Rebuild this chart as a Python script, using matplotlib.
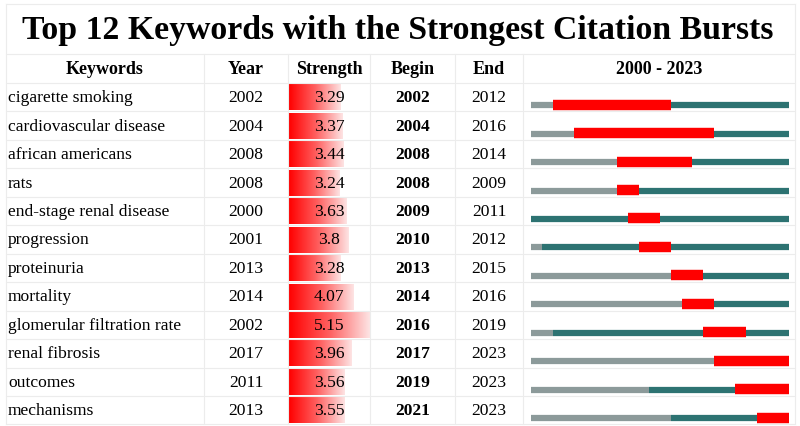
import numpy as np
import matplotlib.pyplot as plt
from matplotlib.colors import LinearSegmentedColormap

keywords = ["cigarette smoking", "cardiovascular disease", "african americans", "rats",
            "end-stage renal disease", "progression", "proteinuria", "mortality",
            "glomerular filtration rate", "renal fibrosis", "outcomes", "mechanisms"]
year = [2002, 2004, 2008, 2008, 2000, 2001, 2013, 2014, 2002, 2017, 2011, 2013]
strength = [3.29, 3.37, 3.44, 3.24, 3.63, 3.8, 3.28, 4.07, 5.15, 3.96, 3.56, 3.55]
begin = [2002, 2004, 2008, 2008, 2009, 2010, 2013, 2014, 2016, 2017, 2019, 2021]
end = [2012, 2016, 2014, 2009, 2011, 2012, 2015, 2016, 2019, 2023, 2023, 2023]
headers = ["Keywords", "Year", "Strength", "Begin", "End", "2000 - 2023"]
y0, y1 = 2000, 2023

plt.rcParams['font.family'] = ['Liberation Serif', 'DejaVu Serif']

fig = plt.figure(figsize=(8, 4.27), dpi=100, facecolor='white')
ax = fig.add_axes([0, 0, 1, 1])
ax.set_xlim(0, 800)
ax.set_ylim(427, 0)
ax.axis('off')

# layout in pixels
cols = [6, 204, 288, 370, 455, 523, 795]
top, title_bot, head_bot = 5, 55, 84
row_h = 28.45
n = len(keywords)
bottom = head_bot + n * row_h
grid = '#ececec'
fs = 12.6

# grid
ax.plot([cols[0], cols[-1]], [top, top], color=grid, lw=0.8)
ax.plot([cols[0], cols[-1]], [title_bot, title_bot], color=grid, lw=0.8)
for i in range(n + 1):
    yy = head_bot + i * row_h
    ax.plot([cols[0], cols[-1]], [yy, yy], color=grid, lw=0.8)
for c in cols[1:-1]:
    ax.plot([c, c], [title_bot, bottom], color=grid, lw=0.8)
ax.plot([cols[0], cols[0]], [top, bottom], color=grid, lw=0.8)
ax.plot([cols[-1], cols[-1]], [top, bottom], color=grid, lw=0.8)

ax.text(398, 31, "Top 12 Keywords with the Strongest Citation Bursts",
        ha='center', va='center', fontsize=24.3, fontweight='bold')

hy = (title_bot + head_bot) / 2
for j, h in enumerate(headers):
    ax.text((cols[j] + cols[j + 1]) / 2, hy, h, ha='center', va='center',
            fontsize=13, fontweight='bold')

cmap = LinearSegmentedColormap.from_list('burst', ['#ff0000', '#ff6060', '#fde4e4'])
grad = np.linspace(0, 1, 256).reshape(1, -1)
smax = max(strength)
tl_x0, tl_x1 = 531, 789
yw = (tl_x1 - tl_x0) / (y1 - y0 + 1)

for i in range(n):
    rt = head_bot + i * row_h
    cy = rt + row_h / 2
    ax.text(8, cy, keywords[i], ha='left', va='center', fontsize=fs)
    ax.text((cols[1] + cols[2]) / 2, cy, str(year[i]), ha='center', va='center', fontsize=fs)
    # strength bar with gradient
    bw = (cols[3] - cols[2] - 1) * strength[i] / smax
    ax.imshow(grad, cmap=cmap, aspect='auto', interpolation='bilinear',
              extent=[cols[2] + 1, cols[2] + 1 + bw, rt + row_h - 1, rt + 1.5], zorder=1)
    ax.text((cols[2] + cols[3]) / 2, cy, f"{strength[i]:g}", ha='center', va='center',
            fontsize=fs, zorder=3)
    ax.text((cols[3] + cols[4]) / 2, cy, str(begin[i]), ha='center', va='center',
            fontsize=fs, fontweight='bold')
    ax.text((cols[4] + cols[5]) / 2, cy, str(end[i]), ha='center', va='center', fontsize=fs)
    # timeline
    by = rt + row_h * 0.78
    xa = tl_x0 + (year[i] - y0) * yw
    if year[i] > y0:
        ax.plot([tl_x0, xa], [by, by], color='#8c9a9a', lw=4.5, solid_capstyle='butt')
    ax.plot([xa, tl_x1], [by, by], color='#2d7372', lw=4.5, solid_capstyle='butt')
    xb = tl_x0 + (begin[i] - y0) * yw
    xe = tl_x0 + (end[i] + 1 - y0) * yw
    ax.plot([xb, xe], [by - 0.5, by - 0.5], color='#ff0000', lw=7.5, solid_capstyle='butt')

ax.set_xlim(0, 800)
ax.set_ylim(427, 0)
fig.savefig('out.png', dpi=100, facecolor='white')
